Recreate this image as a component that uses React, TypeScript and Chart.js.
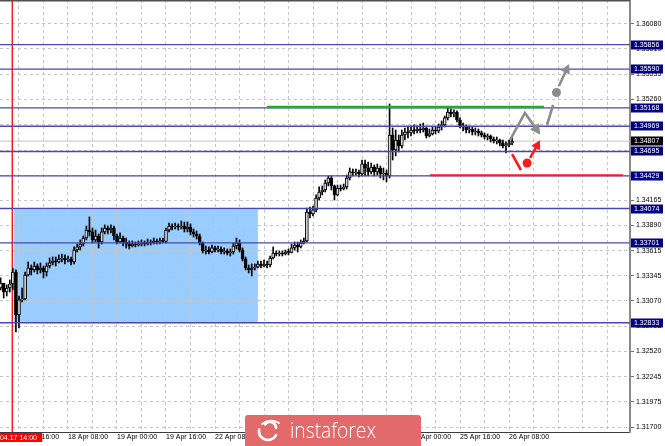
import React, { useEffect, useRef } from 'react';
import { Chart, registerables } from 'chart.js';

Chart.register(...registerables);

// ---------- data ----------
const firstOpen = 1.33211;
const closes = [
  1.33265, 1.33167, 1.33211, 1.33254, 1.33385, 1.32918, 1.33081, 1.33091, 1.33352, 1.33428,
  1.33407, 1.33450, 1.33407, 1.33428, 1.33385, 1.33450, 1.33483, 1.33504, 1.33494, 1.33526,
  1.33537, 1.33515, 1.33526, 1.33494, 1.33624, 1.33657, 1.33689, 1.33754, 1.33841, 1.33820,
  1.33733, 1.33776, 1.33711, 1.33820, 1.33863, 1.33841, 1.33863, 1.33776, 1.33711, 1.33754,
  1.33711, 1.33689, 1.33667, 1.33689, 1.33678, 1.33689, 1.33700, 1.33689, 1.33711, 1.33700,
  1.33722, 1.33711, 1.33722, 1.33718, 1.33841, 1.33885, 1.33874, 1.33885, 1.33874, 1.33885,
  1.33852, 1.33874, 1.33820, 1.33798, 1.33776, 1.33700, 1.33613, 1.33624, 1.33602, 1.33646,
  1.33624, 1.33635, 1.33602, 1.33613, 1.33591, 1.33602, 1.33667, 1.33700, 1.33624, 1.33526,
  1.33428, 1.33407, 1.33428, 1.33439, 1.33472, 1.33450, 1.33472, 1.33461, 1.33537, 1.33591,
  1.33580, 1.33591, 1.33580, 1.33602, 1.33598, 1.33646, 1.33678, 1.33657, 1.33700, 1.33722,
  1.34037, 1.34015, 1.34059, 1.34189, 1.34254, 1.34276, 1.34352, 1.34406, 1.34320, 1.34222,
  1.34298, 1.34287, 1.34309, 1.34406, 1.34472, 1.34461, 1.34468, 1.34450, 1.34559, 1.34515,
  1.34472, 1.34526, 1.34472, 1.34515, 1.34450, 1.34461, 1.34428, 1.34874, 1.34711, 1.34819,
  1.34754, 1.34874, 1.34906, 1.34896, 1.34928, 1.34917, 1.34939, 1.34928, 1.34950, 1.34863,
  1.34885, 1.34928, 1.34917, 1.34961, 1.34983, 1.35059, 1.35124, 1.35102, 1.35120, 1.35037,
  1.34972, 1.34961, 1.34928, 1.34939, 1.34906, 1.34917, 1.34896, 1.34874, 1.34852, 1.34863,
  1.34830, 1.34809, 1.34819, 1.34787, 1.34754, 1.34765, 1.34787, 1.34807,
];
const highs = [
  1.33320, 1.33254, 1.33244, 1.33298, 1.33428, 1.33407, 1.33124, 1.33211, 1.33385, 1.33494,
  1.33461, 1.33494, 1.33472, 1.33483, 1.33450, 1.33483, 1.33537, 1.33548, 1.33548, 1.33570,
  1.33580, 1.33570, 1.33559, 1.33548, 1.33657, 1.33689, 1.33733, 1.33776, 1.33885, 1.33983,
  1.33863, 1.33841, 1.33798, 1.33863, 1.33896, 1.33885, 1.33896, 1.33885, 1.33798, 1.33809,
  1.33776, 1.33754, 1.33722, 1.33722, 1.33711, 1.33722, 1.33733, 1.33722, 1.33743, 1.33733,
  1.33754, 1.33743, 1.33754, 1.33754, 1.33863, 1.33917, 1.33907, 1.33917, 1.33907, 1.33939,
  1.33928, 1.33928, 1.33907, 1.33852, 1.33830, 1.33798, 1.33711, 1.33667, 1.33657, 1.33678,
  1.33667, 1.33667, 1.33657, 1.33646, 1.33635, 1.33635, 1.33700, 1.33754, 1.33733, 1.33646,
  1.33548, 1.33461, 1.33472, 1.33472, 1.33504, 1.33504, 1.33515, 1.33504, 1.33559, 1.33657,
  1.33613, 1.33613, 1.33613, 1.33624, 1.33635, 1.33689, 1.33711, 1.33711, 1.33733, 1.33754,
  1.34080, 1.34091, 1.34102, 1.34222, 1.34309, 1.34320, 1.34385, 1.34428, 1.34428, 1.34330,
  1.34330, 1.34330, 1.34341, 1.34439, 1.34515, 1.34504, 1.34504, 1.34493, 1.34602, 1.34602,
  1.34580, 1.34569, 1.34548, 1.34559, 1.34537, 1.34515, 1.34493, 1.35211, 1.34950, 1.34928,
  1.34874, 1.34928, 1.34950, 1.34961, 1.34972, 1.34983, 1.34972, 1.34993, 1.35004, 1.34961,
  1.34939, 1.34961, 1.34961, 1.34993, 1.35026, 1.35080, 1.35167, 1.35157, 1.35146, 1.35135,
  1.35059, 1.35004, 1.34983, 1.34972, 1.34961, 1.34950, 1.34939, 1.34917, 1.34896, 1.34885,
  1.34874, 1.34852, 1.34852, 1.34830, 1.34819, 1.34798, 1.34819, 1.34841,
];
const lows = [
  1.33189, 1.33102, 1.33124, 1.33167, 1.33189, 1.32733, 1.32776, 1.33059, 1.33081, 1.33341,
  1.33352, 1.33385, 1.33363, 1.33374, 1.33320, 1.33341, 1.33428, 1.33461, 1.33450, 1.33483,
  1.33494, 1.33472, 1.33494, 1.33461, 1.33472, 1.33602, 1.33624, 1.33667, 1.33733, 1.33776,
  1.33700, 1.33711, 1.33646, 1.33689, 1.33798, 1.33798, 1.33809, 1.33733, 1.33689, 1.33700,
  1.33667, 1.33646, 1.33635, 1.33657, 1.33657, 1.33667, 1.33667, 1.33667, 1.33678, 1.33678,
  1.33689, 1.33689, 1.33689, 1.33700, 1.33700, 1.33820, 1.33841, 1.33852, 1.33841, 1.33852,
  1.33820, 1.33820, 1.33787, 1.33765, 1.33743, 1.33678, 1.33591, 1.33580, 1.33580, 1.33591,
  1.33602, 1.33602, 1.33580, 1.33580, 1.33570, 1.33559, 1.33580, 1.33635, 1.33602, 1.33504,
  1.33407, 1.33374, 1.33341, 1.33407, 1.33428, 1.33428, 1.33439, 1.33428, 1.33439, 1.33526,
  1.33559, 1.33559, 1.33559, 1.33570, 1.33570, 1.33591, 1.33624, 1.33602, 1.33646, 1.33689,
  1.33711, 1.33972, 1.33994, 1.34037, 1.34167, 1.34222, 1.34254, 1.34320, 1.34276, 1.34167,
  1.34211, 1.34265, 1.34276, 1.34287, 1.34385, 1.34428, 1.34439, 1.34417, 1.34428, 1.34428,
  1.34428, 1.34450, 1.34428, 1.34439, 1.34406, 1.34385, 1.34363, 1.34406, 1.34602, 1.34646,
  1.34689, 1.34732, 1.34819, 1.34841, 1.34863, 1.34885, 1.34896, 1.34896, 1.34906, 1.34841,
  1.34852, 1.34874, 1.34885, 1.34896, 1.34928, 1.34961, 1.35037, 1.35069, 1.35069, 1.35015,
  1.34950, 1.34917, 1.34896, 1.34896, 1.34874, 1.34874, 1.34863, 1.34852, 1.34830, 1.34819,
  1.34798, 1.34787, 1.34776, 1.34754, 1.34732, 1.34678, 1.34743, 1.34765,
];

const levelValues = [1.35856, 1.35590, 1.35168, 1.34969, 1.34695, 1.34429, 1.34074, 1.33701, 1.32833];
const currentPrice = 1.34807;
const yTickValues = [
  1.36080, 1.35810, 1.35535, 1.35260, 1.34985, 1.34710, 1.34435, 1.34165, 1.33890,
  1.33615, 1.33345, 1.33070, 1.32795, 1.32520, 1.32245, 1.31975, 1.31700,
];
const xTickLabels = [
  '17 Apr 16:00', '18 Apr 08:00', '19 Apr 00:00', '19 Apr 16:00', '22 Apr 08:00', '23 Apr 00:00',
  '23 Apr 16:00', '24 Apr 08:00', '25 Apr 00:00', '25 Apr 16:00', '26 Apr 08:00',
];
const firstLabelBar = 6;
const labelStep = 16;
const gridStep = 8;
const markerBar = 3.8;
const markerLabel = '17.04.17 14:00';

const rangeBoxX = [4.4, 84];
const rangeBoxY = [1.34064, 1.32842];
const resistanceX = [87, 177.4];
const resistanceY = 1.35178;
const supportX = [140.2, 203.2];
const supportY = 1.34436;

const grayPathA = [{ x: 166.3, y: 1.34819 }, { x: 171.2, y: 1.35113 }, { x: 175.8, y: 1.34896 }];
const grayPathB = [{ x: 178.4, y: 1.34983 }, { x: 180.4, y: 1.35200 }];
const grayDot = [{ x: 181.5, y: 1.35336 }];
const grayPathC = [{ x: 182.3, y: 1.35406 }, { x: 185.3, y: 1.35624 }];
const redPathA = [{ x: 167.0, y: 1.34667 }, { x: 169.9, y: 1.34493 }];
const redDot = [{ x: 171.9, y: 1.34569 }];
const redPathB = [{ x: 172.9, y: 1.34624 }, { x: 175.8, y: 1.34798 }];

const X_MIN = -0.2;
const X_MAX = 205.5;
const Y_MIN = 1.316457;
const Y_MAX = 1.363408;

const FONT = '"Liberation Sans", Arial, sans-serif';
const LEVEL_COLOR = '#4848AE';
const GRAY_ARROW = '#8C8C8C';
const RED = '#FF1A1A';

function hLine(y: number, x0: number, x1: number, color: string, width: number, order: number) {
  return {
    type: 'line',
    data: [{ x: x0, y }, { x: x1, y }],
    borderColor: color,
    borderWidth: width,
    pointRadius: 0,
    fill: false,
    order,
  };
}

const overlayPlugin = {
  id: 'overlay',
  afterDatasetsDraw(chart: any) {
    const ctx = chart.ctx;
    chart.data.datasets.forEach((ds: any, i: number) => {
      if (!ds.arrowHead) return;
      const pts = chart.getDatasetMeta(i).data;
      if (pts.length < 2) return;
      const a = pts[pts.length - 2];
      const b = pts[pts.length - 1];
      const ang = Math.atan2(b.y - a.y, b.x - a.x);
      const L = ds.arrowHead;
      const W = L * 0.55;
      const c = Math.cos(ang);
      const s = Math.sin(ang);
      const tipX = b.x + c * 2;
      const tipY = b.y + s * 2;
      const bx = tipX - c * L;
      const by = tipY - s * L;
      ctx.save();
      ctx.fillStyle = ds.borderColor;
      ctx.beginPath();
      ctx.moveTo(tipX, tipY);
      ctx.lineTo(bx - s * W, by + c * W);
      ctx.lineTo(bx + s * W, by - c * W);
      ctx.closePath();
      ctx.fill();
      ctx.restore();
    });
  },
  afterDraw(chart: any) {
    const ctx = chart.ctx;
    const area = chart.chartArea;
    const yScale = chart.scales.y;
    const xScale = chart.scales.x;
    ctx.save();
    // top frame
    ctx.strokeStyle = '#505050';
    ctx.lineWidth = 1.5;
    ctx.beginPath();
    ctx.moveTo(area.left, 0.75);
    ctx.lineTo(area.right, 0.75);
    ctx.stroke();

    ctx.font = `7px ${FONT}`;
    ctx.textBaseline = 'middle';
    ctx.textAlign = 'left';
    const box = (v: number, bg: string) => {
      const py = yScale.getPixelForValue(v);
      ctx.fillStyle = bg;
      ctx.fillRect(area.right + 1, Math.round(py) - 4.5, 32, 9);
      ctx.fillStyle = '#FFFFFF';
      ctx.fillText(v.toFixed(5), area.right + 4, Math.round(py) + 0.5);
    };
    levelValues.forEach((v) => box(v, '#000080'));
    box(currentPrice, '#000000');

    // marker time label
    const mx = xScale.getPixelForValue(markerBar);
    ctx.fillStyle = '#FF0000';
    ctx.fillRect(mx - 24, area.bottom + 1, 54, 9);
    ctx.fillStyle = '#FFFFFF';
    ctx.fillText(markerLabel, mx - 22, area.bottom + 6);

    // watermark
    const lx = 245, ly = 415, lw = 176, lh = 31;
    ctx.fillStyle = '#E26A6A';
    ctx.beginPath();
    ctx.moveTo(lx, ly + 3);
    ctx.quadraticCurveTo(lx, ly, lx + 3, ly);
    ctx.lineTo(lx + lw - 3, ly);
    ctx.quadraticCurveTo(lx + lw, ly, lx + lw, ly + 3);
    ctx.lineTo(lx + lw, ly + lh);
    ctx.lineTo(lx, ly + lh);
    ctx.closePath();
    ctx.fill();
    // icon
    ctx.strokeStyle = '#FFFFFF';
    ctx.lineCap = 'round';
    ctx.lineWidth = 2.6;
    ctx.beginPath();
    ctx.arc(268, 431, 9, Math.PI * 0.15, Math.PI * 1.05);
    ctx.stroke();
    ctx.beginPath();
    ctx.arc(270, 428, 6, Math.PI * 1.2, Math.PI * 2.0);
    ctx.stroke();
    ctx.lineWidth = 2;
    ctx.beginPath();
    ctx.moveTo(262, 424);
    ctx.quadraticCurveTo(270, 418, 279, 423);
    ctx.stroke();
    // text
    ctx.fillStyle = '#FFFFFF';
    ctx.font = `300 22px "Open Sans", ${FONT}`;
    ctx.textBaseline = 'alphabetic';
    const txt = 'instaforex';
    const w = ctx.measureText(txt).width;
    ctx.translate(290, 438);
    ctx.scale(86 / w, 1);
    ctx.fillText(txt, 0, 0);
    ctx.restore();
  },
};

export default function App() {
  const ref = useRef<HTMLCanvasElement>(null);
  useEffect(() => {
    document.body.style.margin = '0';
    const wicks: any[] = [];
    const bodies: any[] = [];
    let open = firstOpen;
    for (let i = 0; i < closes.length; i++) {
      wicks.push({ x: i, y: [lows[i], highs[i]] });
      bodies.push({ x: i, y: [open, closes[i]] });
      open = closes[i];
    }

    const datasets: any[] = [
      {
        type: 'line',
        data: [{ x: rangeBoxX[0], y: rangeBoxY[0] }, { x: rangeBoxX[1], y: rangeBoxY[0] }],
        borderWidth: 0,
        borderColor: 'rgba(0,0,0,0)',
        backgroundColor: '#99CCFF',
        pointRadius: 0,
        fill: { value: rangeBoxY[1] },
        order: 100,
      },
      hLine(currentPrice, X_MIN, X_MAX, '#C4C4C4', 1, 60),
      {
        type: 'line',
        data: [{ x: markerBar, y: Y_MIN }, { x: markerBar, y: Y_MAX }],
        borderColor: '#FF0000',
        borderWidth: 1.3,
        pointRadius: 0,
        fill: false,
        order: 55,
      },
      {
        type: 'bar',
        data: wicks,
        backgroundColor: '#000000',
        barThickness: 1,
        grouped: false,
        borderWidth: 0,
        order: 20,
      },
      {
        type: 'bar',
        data: bodies,
        backgroundColor: (c: any) => {
          const r = c.raw;
          return r && r.y[1] > r.y[0] ? '#D8D8D8' : '#000000';
        },
        borderColor: '#000000',
        borderWidth: 1,
        borderSkipped: false,
        barThickness: 3,
        minBarLength: 1,
        grouped: false,
        order: 15,
      },
      ...levelValues.map((v) => hLine(v, X_MIN, X_MAX, LEVEL_COLOR, 1.4, 8)),
      hLine(resistanceY, resistanceX[0], resistanceX[1], '#1FAF1F', 2.6, 7),
      hLine(supportY, supportX[0], supportX[1], RED, 2.2, 7),
      { type: 'line', data: grayPathA, borderColor: GRAY_ARROW, borderWidth: 2.6, pointRadius: 0, fill: false, order: 3, arrowHead: 10 },
      { type: 'line', data: grayPathB, borderColor: GRAY_ARROW, borderWidth: 2.6, pointRadius: 0, fill: false, order: 3 },
      { type: 'line', data: grayPathC, borderColor: GRAY_ARROW, borderWidth: 2.6, pointRadius: 0, fill: false, order: 3, arrowHead: 9 },
      { type: 'line', data: grayDot, showLine: false, pointRadius: 4.5, pointBackgroundColor: GRAY_ARROW, pointBorderWidth: 0, order: 2 },
      { type: 'line', data: redPathA, borderColor: RED, borderWidth: 2.6, pointRadius: 0, fill: false, order: 3 },
      { type: 'line', data: redPathB, borderColor: RED, borderWidth: 2.6, pointRadius: 0, fill: false, order: 3, arrowHead: 9 },
      { type: 'line', data: redDot, showLine: false, pointRadius: 4.5, pointBackgroundColor: RED, pointBorderWidth: 0, order: 2 },
    ];

    const gridBars: number[] = [];
    for (let v = firstLabelBar; v <= X_MAX; v += gridStep) gridBars.push(v);

    const chart = new Chart(ref.current as HTMLCanvasElement, {
      type: 'bar',
      data: { datasets },
      options: {
        responsive: false,
        animation: false,
        events: [],
        layout: { padding: 0, autoPadding: false },
        plugins: {
          legend: { display: false },
          tooltip: { enabled: false },
          filler: { drawTime: 'beforeDraw' },
        },
        elements: { line: { tension: 0 } },
        scales: {
          x: {
            type: 'linear',
            min: X_MIN,
            max: X_MAX,
            offset: false,
            afterBuildTicks: (scale: any) => {
              scale.ticks = gridBars.map((v) => ({ value: v }));
            },
            afterFit: (scale: any) => {
              scale.height = 14;
              scale.paddingLeft = 0;
              scale.paddingRight = 0;
            },
            grid: { color: '#C6C6C6', lineWidth: 1, drawTicks: false, offset: false },
            border: { display: true, color: '#3A3A3A', width: 1, dash: [3, 3] },
            ticks: {
              autoSkip: false,
              maxRotation: 0,
              minRotation: 0,
              align: 'start',
              padding: 1,
              color: '#000000',
              font: { family: FONT, size: 7 },
              callback: (v: any) => {
                const k = (Number(v) - firstLabelBar) / labelStep;
                return Number.isInteger(k) && k >= 0 && k < xTickLabels.length ? xTickLabels[k] : '';
              },
            },
          },
          y: {
            type: 'linear',
            position: 'right',
            min: Y_MIN,
            max: Y_MAX,
            afterBuildTicks: (scale: any) => {
              scale.ticks = yTickValues.map((v) => ({ value: v }));
            },
            afterFit: (scale: any) => {
              scale.width = 35;
              scale.paddingTop = 0;
              scale.paddingBottom = 0;
            },
            grid: { color: '#C6C6C6', lineWidth: 1, drawTicks: true, tickLength: 4, tickColor: '#707070' },
            border: { display: true, color: '#8A8A8A', width: 2, dash: [3, 3] },
            ticks: {
              autoSkip: false,
              padding: 2,
              color: '#000000',
              font: { family: FONT, size: 7 },
              callback: (v: any) => Number(v).toFixed(5),
            },
          },
        },
      } as any,
      plugins: [overlayPlugin],
    } as any);
    return () => chart.destroy();
  }, []);
  return (
    <div style={{ width: 665, height: 446, background: '#FFFFFF' }}>
      <canvas ref={ref} width={665} height={446} style={{ display: 'block', width: 665, height: 446 }} />
    </div>
  );
}
